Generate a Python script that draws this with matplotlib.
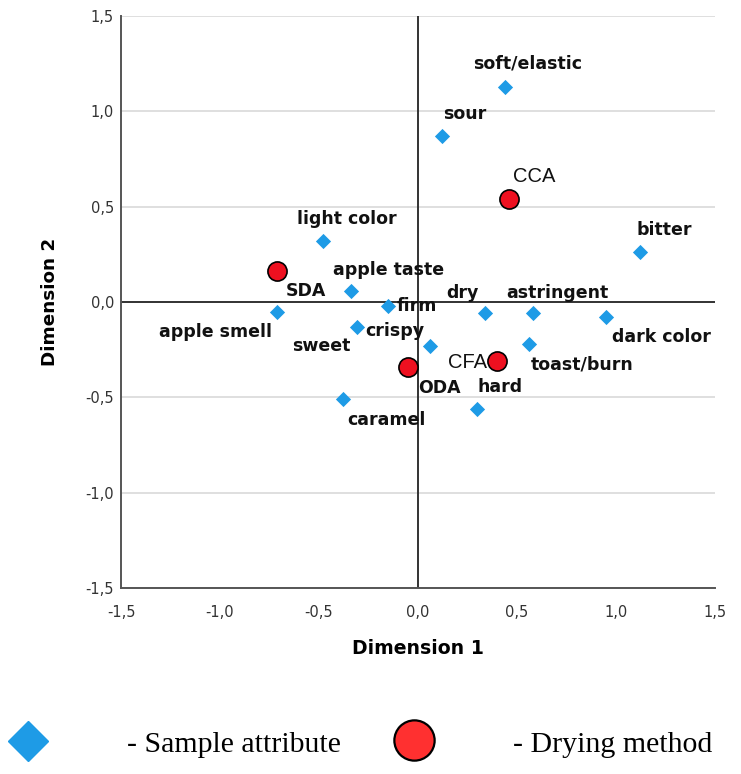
import matplotlib.pyplot as plt
from matplotlib.lines import Line2D

# Sample attributes (Dimension 1, Dimension 2)
attr_names = ["soft/elastic", "sour", "bitter", "light color", "apple taste",
              "apple smell", "firm", "crispy", "sweet", "dry", "astringent",
              "dark color", "toast/burn", "hard", "caramel"]
attr_x = [0.44, 0.12, 1.12, -0.48, -0.34, -0.71, -0.15, -0.31, 0.06, 0.34,
          0.58, 0.95, 0.56, 0.30, -0.38]
attr_y = [1.13, 0.87, 0.26, 0.32, 0.06, -0.05, -0.02, -0.13, -0.23, -0.06,
          -0.06, -0.08, -0.22, -0.56, -0.51]

# Drying methods
method_names = ["CCA", "SDA", "CFA", "ODA"]
method_x = [0.46, -0.71, 0.40, -0.05]
method_y = [0.54, 0.16, -0.31, -0.34]

# label offsets in pixels (dx right, dy up)
attr_off = {"soft/elastic": (23, 23), "sour": (23, 22), "bitter": (24, 22),
            "light color": (24, 22), "apple taste": (38, 21), "apple smell": (-62, -20),
            "firm": (29, 0), "crispy": (38, -4), "sweet": (-109, 0), "dry": (-23, 20),
            "astringent": (25, 20), "dark color": (55, -20), "toast/burn": (53, -21),
            "hard": (23, 22), "caramel": (44, -21)}
method_off = {"CCA": (25, 23), "SDA": (29, -20), "CFA": (-30, -1), "ODA": (31, -21)}
method_bold = {"CCA": "normal", "SDA": "bold", "CFA": "normal", "ODA": "bold"}

blue = "#1E9BE6"
red = "#EE1020"

fig = plt.figure(figsize=(7.41, 7.74), dpi=100)
ax = fig.add_axes([121 / 741, 186 / 774, 594 / 741, 572 / 774])

ax.set_xlim(-1.5, 1.5)
ax.set_ylim(-1.5, 1.5)
ticks = [-1.5, -1.0, -0.5, 0.0, 0.5, 1.0, 1.5]
ax.set_xticks(ticks)
ax.set_yticks(ticks)
ax.set_xticklabels([f"{t:.1f}".replace(".", ",") for t in ticks])
ax.set_yticklabels([f"{t:.1f}".replace(".", ",") for t in ticks])
ax.tick_params(length=0, labelsize=10.5, colors="#333333")
ax.tick_params(axis="x", pad=12)
ax.tick_params(axis="y", pad=5)
for t in ticks:
    ax.axhline(t, color="#d9d9d9", lw=1.2, zorder=0)
ax.axhline(0, color="#333333", lw=1.4, zorder=1)
ax.axvline(0, color="#333333", lw=1.4, zorder=1)
for s in ["top", "right"]:
    ax.spines[s].set_visible(False)
for s in ["left", "bottom"]:
    ax.spines[s].set_color("#555555")
    ax.spines[s].set_linewidth(1.4)

ax.scatter(attr_x, attr_y, marker="D", s=60, color=blue, linewidths=0, zorder=3)
ax.scatter(method_x, method_y, marker="o", s=190, color=red, edgecolors="black",
           linewidths=1.2, zorder=3)

px = 72 / 100
for n, x, y in zip(attr_names, attr_x, attr_y):
    dx, dy = attr_off[n]
    ax.annotate(n, (x, y), xytext=(dx * px, dy * px), textcoords="offset points",
                ha="center", va="center", fontsize=12.5, fontweight="bold",
                color="#111111")
for n, x, y in zip(method_names, method_x, method_y):
    dx, dy = method_off[n]
    if method_bold[n] == "bold":
        ax.annotate(n, (x, y), xytext=(dx * px, dy * px), textcoords="offset points",
                    ha="center", va="center", fontsize=12.5, fontweight="bold",
                    color="#111111")
    else:
        ax.annotate(n, (x, y), xytext=(dx * px, dy * px), textcoords="offset points",
                    ha="center", va="center", fontsize=14.5, family="Liberation Sans",
                    color="#111111")

ax.set_xlabel("Dimension 1", fontsize=13.6, fontweight="bold", labelpad=14)
ax.set_ylabel("Dimension 2", fontsize=13.2, fontweight="bold", labelpad=19)

# legend row at the bottom
fig.add_artist(Line2D([28 / 741], [1 - 741 / 774], marker="D", markersize=20,
                      color=blue, transform=fig.transFigure, linestyle=""))
fig.text(127 / 741, 1 - 752 / 774, "- Sample attribute", fontsize=21.5,
         family="Liberation Serif", va="baseline", ha="left")
fig.add_artist(Line2D([414 / 741], [1 - 740 / 774], marker="o", markersize=29,
                      markerfacecolor="#FF3030", markeredgecolor="black",
                      markeredgewidth=1.6, transform=fig.transFigure, linestyle=""))
fig.text(513 / 741, 1 - 752 / 774, "- Drying method", fontsize=21.5,
         family="Liberation Serif", va="baseline", ha="left")

fig.savefig("out.png", dpi=100)
